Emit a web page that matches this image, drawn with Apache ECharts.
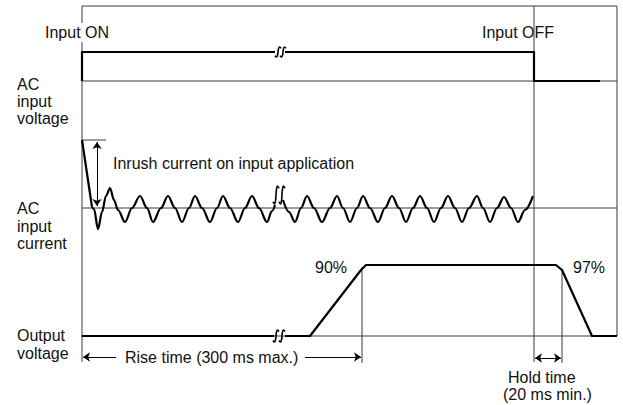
<!DOCTYPE html>
<html>
<head>
<meta charset="utf-8">
<script src="https://cdn.jsdelivr.net/npm/echarts@6/dist/echarts.min.js"></script>
<style>
  html, body { margin: 0; padding: 0; background: #fff; }
  #chart { width: 623px; height: 405px; }
</style>
</head>
<body>
<div id="chart"></div>
<script>
// timing diagram, drawn in a 623 x 405 value space (x = time, y = level, downwards)

// thin frame / reference lines
const frameLines = [
  [[82, 6], [617, 6]],
  [[617, 6], [617, 336]],
  [[82, 6], [82, 23]],
  [[82, 42], [82, 362]],
  [[534, 6], [534, 362]],
  [[82, 81], [617, 81]],
  [[82, 208], [617, 208]],
  [[82, 336], [617, 336]],
  [[362, 267], [362, 363]],
  [[562, 270], [562, 363]],
  [[82, 140], [106, 140]]
];

// AC input voltage (before / after the break)
const inputVoltageA = [[82, 81], [82, 52], [275, 52]];
const inputVoltageB = [[285, 52], [534, 52], [534, 81], [600, 81]];

// AC input current: inrush spike, then the wave before / after the break
const inrushSpike = [[82, 140], [92, 207]];
const inputCurrentA = [
  [92, 207], [94, 209], [98, 229], [102, 212], [106, 196], [110, 188],
  [114, 200], [118, 210], [125, 222], [132, 208], [140, 196], [147, 208],
  [153, 222], [161, 208], [168, 196], [175, 208], [182, 222], [189, 208],
  [195, 196], [202, 208], [210, 222], [217, 208], [223, 196], [230, 208],
  [238, 222], [245, 208], [252, 196], [259, 208], [267, 222], [272, 211], [275, 205]
];
const inputCurrentB = [
  [283, 200], [289, 212], [295, 222], [301, 208], [307, 196], [314, 208],
  [322, 222], [330, 208], [337, 196], [343, 208], [350, 222], [357, 208],
  [363, 196], [370, 208], [378, 222], [385, 208], [392, 196], [399, 208],
  [406, 222], [413, 208], [420, 196], [427, 208], [434, 222], [441, 208],
  [448, 196], [455, 208], [462, 222], [469, 208], [477, 196], [483, 208],
  [490, 222], [497, 208], [504, 197], [511, 208], [518, 222], [525, 210], [533, 196]
];

// output voltage
const outputVoltageA = [[82, 336], [274, 336]];
const outputVoltageB = [[285, 336], [310, 336], [361, 270], [366, 265], [556, 265], [562, 270], [592, 336], [617, 336]];

// break marks (centre x, centre y, half height)
const breakMarks = [
  [278, 52, 5], [283, 52, 5],
  [276, 195, 9], [282, 195, 9],
  [276, 336, 6], [282, 336, 6]
];

// dimension arrows: coords + which ends carry an arrow head
const arrows = [
  { coords: [[83, 357], [116, 357]], ends: ['arrow', 'none'] },
  { coords: [[305, 357], [361, 357]], ends: ['none', 'arrow'] },
  { coords: [[548, 358], [535, 358]], ends: ['none', 'arrow'] },
  { coords: [[548, 358], [561, 358]], ends: ['none', 'arrow'] },
  { coords: [[97, 142], [97, 206]], ends: ['arrow', 'arrow'] }
];

const labels = [
  ['Input ON', 45, 32],
  ['Input OFF', 482, 32],
  ['AC', 17, 84], ['input', 17, 101], ['voltage', 17, 118],
  ['AC', 17, 208], ['input', 17, 226], ['current', 17, 243],
  ['Output', 17, 335], ['voltage', 17, 353],
  ['Inrush current on input application', 113, 163],
  ['90%', 315, 267],
  ['97%', 573, 267],
  ['Rise time (300 ms max.)', 125, 357],
  ['Hold time', 508, 377],
  ['(20 ms min.)', 503, 394]
];

const FONT = '"Liberation Sans", Arial, Helvetica, sans-serif';

function thin(d) {
  return { type: 'line', data: d, showSymbol: false, silent: true,
    lineStyle: { color: '#3a3a3a', width: 1 } };
}
function thick(d, smooth) {
  return { type: 'line', data: d, showSymbol: false, silent: true,
    smooth: smooth || false, smoothMonotone: 'x',
    lineStyle: { color: '#000', width: 2.2, join: 'round' } };
}
// "ʃ" shaped break stroke around a centre point
function squiggle(m) {
  let x = m[0], y = m[1], h = m[2];
  return { type: 'line', showSymbol: false, silent: true, smooth: 0.5,
    data: [[x + 3, y - h * 0.75], [x + 1.5, y - h], [x + 0.4, y - h * 0.55], [x, y],
      [x - 0.4, y + h * 0.55], [x - 1.5, y + h], [x - 3, y + h * 0.75]],
    lineStyle: { color: '#000', width: 1.6 } };
}

let series = [];
frameLines.forEach(function (s) { series.push(thin(s)); });
series.push(thick(inputVoltageA));
series.push(thick(inputVoltageB));
series.push(thick(inrushSpike));
series.push(thick(inputCurrentA, 0.35));
series.push(thick(inputCurrentB, 0.35));
series.push(thick(outputVoltageA));
series.push(thick(outputVoltageB));
breakMarks.forEach(function (m) { series.push(squiggle(m)); });
series.push({
  type: 'lines', coordinateSystem: 'cartesian2d', silent: true,
  symbolSize: 7,
  lineStyle: { color: '#000', width: 1, opacity: 1 },
  data: arrows.map(function (a) { return { coords: a.coords, symbol: a.ends }; })
});

let myChart = echarts.init(document.getElementById('chart'), null, { renderer: 'svg' });
let option = {
  animation: false,
  backgroundColor: '#fff',
  grid: { left: 0, right: 0, top: 0, bottom: 0 },
  xAxis: { type: 'value', min: 0, max: 623, show: false },
  yAxis: { type: 'value', min: 0, max: 405, inverse: true, show: false },
  graphic: labels.map(function (l) {
    return { type: 'text', x: l[1], y: l[2], silent: true,
      style: { text: l[0], fill: '#111', font: '16px ' + FONT, textVerticalAlign: 'middle', textBaseline: 'middle' } };
  }),
  series: series
};
myChart.setOption(option);
</script>
</body>
</html>
